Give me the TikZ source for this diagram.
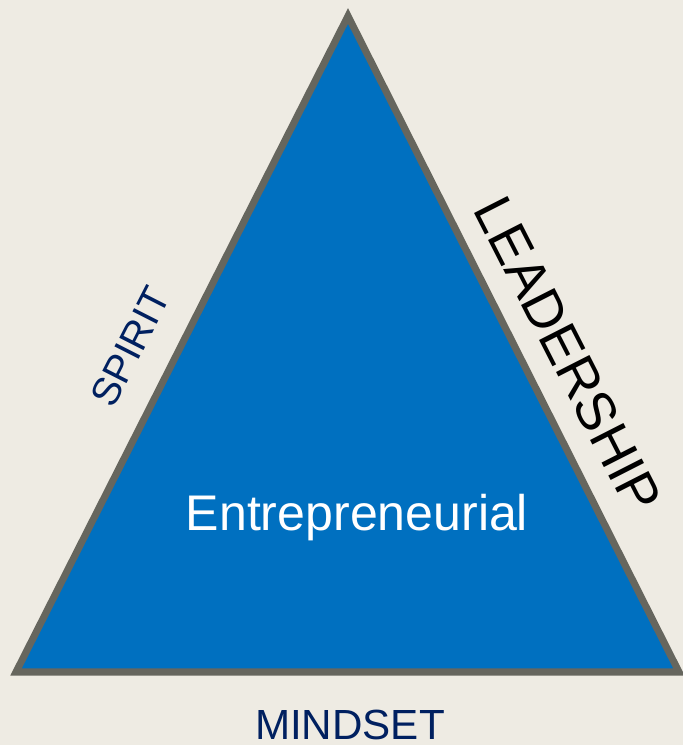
\documentclass[tikz,border=0pt]{standalone}
\usepackage{fontspec}
\setmainfont{Liberation Sans}
\usetikzlibrary{positioning}
\definecolor{bgbeige}{HTML}{EEEBE3}
\definecolor{triblue}{HTML}{0070C0}
\definecolor{edgegray}{HTML}{66665E}
\definecolor{navy}{HTML}{002060}

\begin{document}
\begin{tikzpicture}[x=0.02cm, y=-0.02cm]
			\fill[bgbeige] (0,0) rectangle (683,745);
			\useasboundingbox (0,0) rectangle (683,745);
			\coordinate (top) at (348,16);
			\coordinate (bl) at (16,672);
			\coordinate (br) at (679,672);
			\draw[edgegray, fill=triblue, line width=4pt] (top) -- (br) -- (bl) -- cycle;
			\node [text=white, font=\fontsize{28.5}{32}\selectfont] (centre) at (357,518) {Entrepreneurial};
			\node [text=navy, font=\fontsize{24}{28}\selectfont] (mindset) at (350,725) {MINDSET};
			\node [text=navy, font=\fontsize{22.5}{26}\selectfont, rotate=63] (spirit) at (130,347) {SPIRIT};
			\node [text=black, font=\fontsize{31}{36}\selectfont, rotate=-63] (leader) at (568,355) {LEADERSHIP};
		\end{tikzpicture}
\end{document}
